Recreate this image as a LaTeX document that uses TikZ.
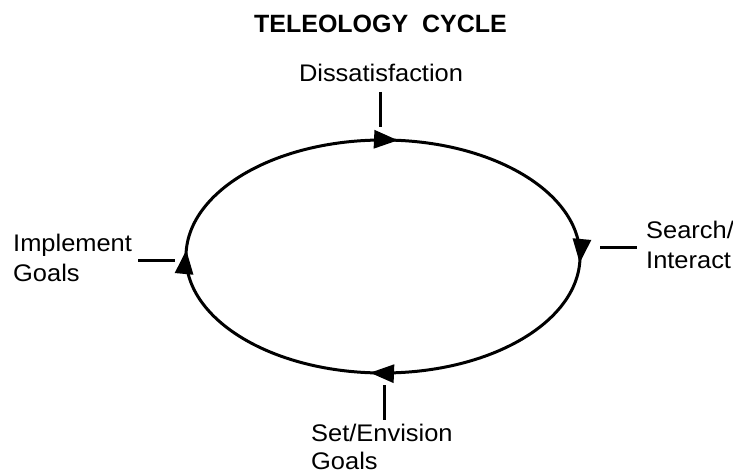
\documentclass[tikz,border=0pt]{standalone}
\usepackage{fontspec}
\setmainfont{Liberation Sans}
\newfontfamily\lblfont[FakeStretch=1.06]{Liberation Sans}
\usetikzlibrary{arrows.meta,decorations.markings}

\begin{document}
\begin{tikzpicture}[x=1pt,y=-1pt,
  cycleline/.style={line width=3pt},
  tick/.style={line width=3pt},
  lbl/.style={inner sep=0pt,anchor=north west,align=left,
    font=\lblfont\fontsize{24}{30}\selectfont},
  flow/.style={postaction={decorate},decoration={markings,
    mark=at position 0.0065 with {\arrow{Triangle[length=24pt,width=18pt]}},
    mark=at position 0.263 with {\arrow{Triangle[length=24pt,width=18pt]}},
    mark=at position 0.5065 with {\arrow{Triangle[length=24pt,width=18pt]}},
    mark=at position 0.765 with {\arrow{Triangle[length=24pt,width=18pt]}}}}]

\useasboundingbox (0,0) rectangle (733,476);

% title
\node[inner sep=0pt,anchor=base,font=\bfseries\fontsize{25}{30}\selectfont] (title) at (380.5,33) {TELEOLOGY~~CYCLE};

% the cycle, running clockwise
\draw[cycleline,flow] (383,256.5) ellipse [x radius=197, y radius=116.5];

% the four stages
\node[inner sep=0pt,anchor=base,font=\lblfont\fontsize{24}{30}\selectfont] (dis) at (381,82) {Dissatisfaction};
\node[lbl] (search) at (646,220.5) {Search/\\Interact};
\node[lbl,font=\lblfont\fontsize{24}{28}\selectfont] (setgoals) at (311,423.5) {Set/Envision\\Goals};
\node[lbl] (implement) at (13,234) {Implement\\Goals};

% marks between labels and cycle
\coordinate (distick) at (380,92);
\coordinate (searchtick) at (600,247);
\coordinate (settick) at (384,385);
\coordinate (impltick) at (138,260);

\draw[tick] (distick) -- ++(0,35);
\draw[tick] (searchtick) -- ++(37,0);
\draw[tick] (settick) -- ++(0,35);
\draw[tick] (impltick) -- ++(37,0);
\end{tikzpicture}
\end{document}
